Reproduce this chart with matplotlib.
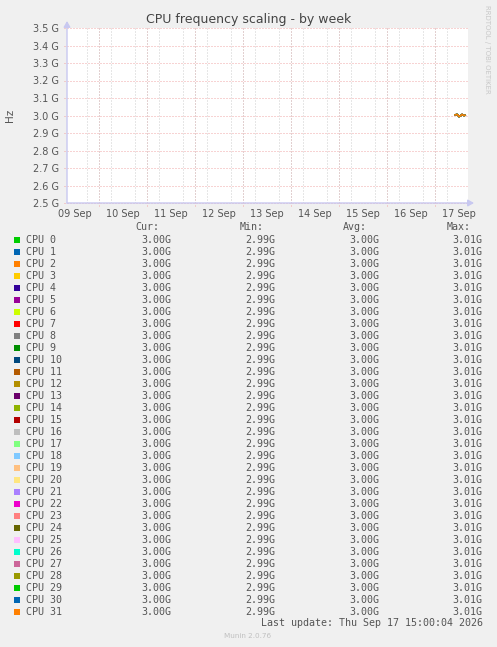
import datetime as dt
import matplotlib
matplotlib.use("Agg")
import matplotlib.pyplot as plt
import matplotlib.dates as mdates
from matplotlib.patches import Rectangle

# ---------------- data ----------------
cpu_names = [f"CPU {i}" for i in range(32)]
cpu_colors = ["#00CC00", "#0066B3", "#FF8000", "#FFCC00", "#330099", "#990099",
              "#CCFF00", "#FF0000", "#808080", "#008F00", "#00487D", "#B35A00",
              "#B38F00", "#6B006B", "#8FB300", "#B30000", "#BEBEBE", "#80FF80",
              "#80C9FF", "#FFC080", "#FFE680", "#AA80FF", "#EE00CC", "#FF8080",
              "#666600", "#FFBFFF", "#00FFCC", "#CC6699", "#999900", "#00CC00",
              "#0066B3", "#FF8000"]
# sample times (Sep 17 2026) and frequency in GHz (all CPUs read identically)
sample_times = ["2026-09-17 10:00", "2026-09-17 10:30", "2026-09-17 11:00",
                "2026-09-17 11:30", "2026-09-17 12:00", "2026-09-17 12:30",
                "2026-09-17 13:00", "2026-09-17 13:30", "2026-09-17 14:00",
                "2026-09-17 14:30", "2026-09-17 15:00"]
freq_ghz = [3.003, 3.004, 3.006, 3.002, 2.994, 2.997, 3.001, 3.005, 3.003,
            3.000, 3.002]
cpu_series = {name: freq_ghz for name in cpu_names}

y_ticks = [2.5, 2.6, 2.7, 2.8, 2.9, 3.0, 3.1, 3.2, 3.3, 3.4, 3.5]
y_tick_labels = ["2.5 G", "2.6 G", "2.7 G", "2.8 G", "2.9 G", "3.0 G",
                 "3.1 G", "3.2 G", "3.3 G", "3.4 G", "3.5 G"]
day_labels = ["09 Sep", "10 Sep", "11 Sep", "12 Sep", "13 Sep", "14 Sep",
              "15 Sep", "16 Sep", "17 Sep"]
x_start = dt.datetime(2026, 9, 9, 8, 0)
x_end = dt.datetime(2026, 9, 17, 16, 30)
title = "CPU frequency scaling - by week"
last_update = "Last update: Thu Sep 17 15:00:04 2026"

# ---------------- figure ----------------
W, H = 497, 647
BG = "#F0F0F0"
TXT = "#555555"
fig = plt.figure(figsize=(W / 100, H / 100), dpi=100, facecolor=BG)

L, R, T, B = 67, 468, 28, 203
ax = fig.add_axes([L / W, 1 - B / H, (R - L) / W, (B - T) / H])
ax.set_facecolor("white")
for s in ax.spines.values():
    s.set_visible(False)

times = [dt.datetime.strptime(t, "%Y-%m-%d %H:%M") for t in sample_times]
ax.set_xlim(x_start, x_end)
ax.set_ylim(y_ticks[0], y_ticks[-1])

# grid
ax.xaxis.set_minor_locator(mdates.HourLocator(byhour=[0, 6, 12, 18]))
ax.grid(which="minor", axis="x", color="#CFCFCF", linestyle=(0, (1, 2)), linewidth=0.72)
day0 = dt.datetime(2026, 9, 9)
midnights = [day0 + dt.timedelta(days=i) for i in range(1, 9)]
for m in midnights:
    ax.axvline(m, ymin=-3 / (B - T), ymax=1, color="#F0A8A8",
               linestyle=(0, (1, 2)), linewidth=0.72, clip_on=False, zorder=1)
for yv in y_ticks:
    ax.axhline(yv, xmin=-3 / (R - L), xmax=1, color="#F0A8A8",
               linestyle=(0, (1, 2)), linewidth=0.72, clip_on=False, zorder=1)

# data lines
for name, col in zip(cpu_names, cpu_colors):
    ax.plot(times, cpu_series[name], color=col, linewidth=1.2, zorder=3)

# ticks
noons = [day0 + dt.timedelta(days=i, hours=12) for i in range(len(day_labels))]
ax.set_xticks(noons)
ax.set_xticklabels(day_labels)
ax.set_yticks(y_ticks)
ax.set_yticklabels(y_tick_labels)
ax.tick_params(axis="both", which="both", length=0, labelsize=7, colors=TXT, pad=3)
ax.tick_params(axis="x", pad=4)
ax.tick_params(axis="y", pad=6)

# axes arrows
arrow_col = "#C8C8F0"
ax.annotate("", xy=(0, 1 + 7 / (B - T)), xytext=(0, 0), xycoords="axes fraction",
            arrowprops=dict(arrowstyle="-|>,head_length=0.35,head_width=0.2",
                            color=arrow_col, lw=1.0, shrinkA=0, shrinkB=0))
ax.annotate("", xy=(1 + 6 / (R - L), 0), xytext=(0, 0), xycoords="axes fraction",
            arrowprops=dict(arrowstyle="-|>,head_length=0.35,head_width=0.2",
                            color=arrow_col, lw=1.0, shrinkA=0, shrinkB=0))

# ---------------- overlay in pixel coords ----------------
ov = fig.add_axes([0, 0, 1, 1], facecolor="none")
ov.set_xlim(0, W)
ov.set_ylim(H, 0)
ov.axis("off")

ov.text(W / 2, 19, title, ha="center", va="center", fontsize=9, color="#444444")
ov.text(10, (T + B) / 2, "Hz", ha="center", va="center", rotation=90,
        fontsize=7.5, color=TXT)
ov.text(487, 5, "RRDTOOL / TOBI OETIKER", ha="center", va="top", rotation=270,
        fontsize=5, color="#C8C8C8")

mono = "DejaVu Sans Mono"
fs = 7.2
col_right = [171.7, 275.3, 379.0, 482.7]
headers = ["Cur:", "Min:", "Avg:", "Max:"]
for xr, h in zip(col_right, headers):
    ov.text(xr - 12, 227, h, ha="right", va="center", family=mono, fontsize=fs, color=TXT)

row0, step = 239.7, 12.0
for i, (name, col) in enumerate(zip(cpu_names, cpu_colors)):
    y = row0 + i * step
    vals = cpu_series[name]
    stats = [vals[-1], min(vals), sum(vals) / len(vals), max(vals)]
    ov.add_patch(Rectangle((14, y - 3), 6, 6, facecolor=col, edgecolor="none"))
    ov.text(26.3, y, name, ha="left", va="center", family=mono, fontsize=fs, color=TXT)
    for xr, v in zip(col_right, stats):
        ov.text(xr, y, f"{v:.2f}G", ha="right", va="center", family=mono,
                fontsize=fs, color=TXT)

ov.text(482.7, 623.3, last_update, ha="right", va="center", family=mono,
        fontsize=fs, color=TXT)
ov.text(248, 636, "Munin 2.0.76", ha="center", va="center", fontsize=5.2, color="#C0C0C0")

fig.savefig("out.png", dpi=100, facecolor=BG)
